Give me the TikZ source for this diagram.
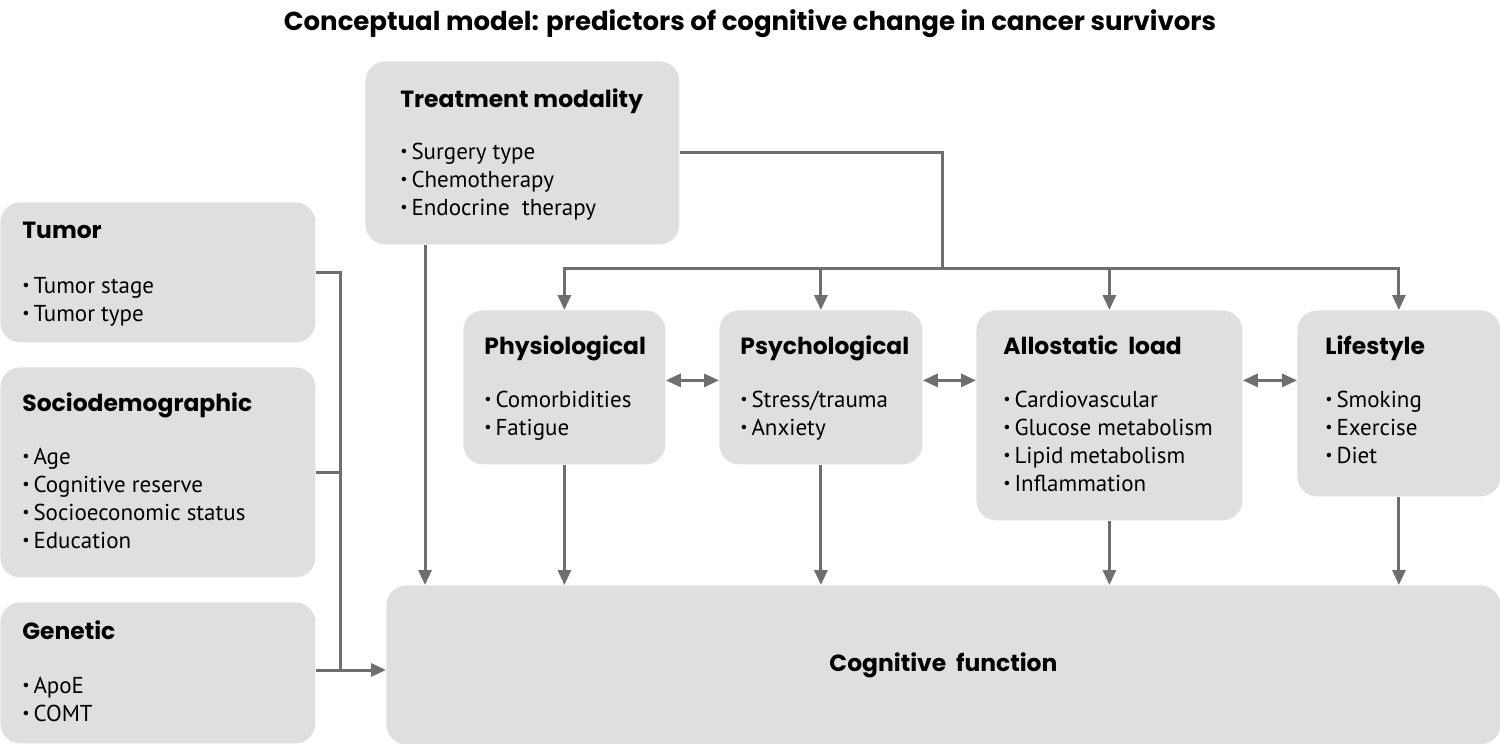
\documentclass[tikz,border=0pt]{standalone}
\usepackage{fontspec}
\setmainfont{PT Sans}
\newfontfamily\headfamily{Poppins}
\usetikzlibrary{arrows.meta}

\definecolor{boxgray}{HTML}{DFDFDF}
\definecolor{linegray}{HTML}{6E6E6E}

\newcommand{\bul}{\raisebox{0.22ex}{\scalebox{0.7}{\textbullet}}\,}

\tikzset{
  box/.style={fill=boxgray, rounded corners=10pt, anchor=north west, inner sep=0pt},
  head/.style={font=\headfamily\bfseries\fontsize{11.7}{14}\selectfont, anchor=base west, inner sep=0pt},
  item/.style={font=\fontsize{11.5}{14}\selectfont, anchor=base west, inner sep=0pt},
  conn/.style={draw=linegray, line width=1.5pt},
  arr/.style={conn, -{Triangle[length=7.5pt,width=6.5pt]}},
  dbl/.style={conn, {Triangle[length=7.5pt,width=6.5pt]}-{Triangle[length=7.5pt,width=6.5pt]}}
}

\begin{document}
\begin{tikzpicture}[x=0.5pt, y=-0.5pt]
  \useasboundingbox (0,0) rectangle (1500,744);

  % Titel
  \node[font=\headfamily\bfseries\fontsize{13}{15}\selectfont, anchor=base] (title) at (750,30)
    {Conceptual model: predictors of cognitive change in cancer survivors};

  % Boxen links
  \node[box, minimum width=157.5pt, minimum height=70pt] (tumor) at (0,202) {};
  \node[box, minimum width=157.5pt, minimum height=105pt] (socio) at (0,367) {};
  \node[box, minimum width=157.5pt, minimum height=70.5pt] (genetic) at (0,602) {};

  % Behandlung und Zielbox
  \node[box, minimum width=157pt, minimum height=91.5pt] (treat) at (365,61) {};
  \node[box, minimum width=557pt, minimum height=79.5pt] (cog) at (386,585) {};

  % Mittlere Reihe
  \node[box, minimum width=101pt, minimum height=77pt] (phys) at (463,310) {};
  \node[box, minimum width=101.5pt, minimum height=77pt] (psych) at (719,310) {};
  \node[box, minimum width=133pt, minimum height=105pt] (allo) at (976,310) {};
  \node[box, minimum width=101.5pt, minimum height=93pt] (life) at (1297,310) {};

  % Texte
  \node[head] (tumor-h) at (22,238) {Tumor};
  \foreach \t [count=\i] in {Tumor stage, Tumor type}
    \node[item] (tumor-\i) at (22,265+28*\i) {\bul\t};

  \node[head] (socio-h) at (22,411) {Sociodemographic};
  \foreach \t [count=\i] in {Age, Cognitive reserve, Socioeconomic status, Education}
    \node[item] (socio-\i) at (22,436+28*\i) {\bul\t};

  \node[head] (genetic-h) at (22,639) {Genetic};
  \foreach \t [count=\i] in {ApoE, COMT}
    \node[item] (genetic-\i) at (22,665+28*\i) {\bul\t};

  \node[head] (treat-h) at (400,107) {Treatment modality};
  \foreach \t [count=\i] in {Surgery type, Chemotherapy, Endocrine~~therapy}
    \node[item] (treat-\i) at (400,131+28*\i) {\bul\t};

  \node[head] (phys-h) at (484,354) {Physiological};
  \foreach \t [count=\i] in {Comorbidities, Fatigue}
    \node[item] (phys-\i) at (484,379+28*\i) {\bul\t};

  \node[head] (psych-h) at (740,354) {Psychological};
  \foreach \t [count=\i] in {Stress/trauma, Anxiety}
    \node[item] (psych-\i) at (740,379+28*\i) {\bul\t};

  \node[head] (allo-h) at (1003,354) {Allostatic~~load};
  \foreach \t [count=\i] in {Cardiovascular, Glucose metabolism, Lipid metabolism, Inflammation}
    \node[item] (allo-\i) at (1003,379+28*\i) {\bul\t};

  \node[head] (life-h) at (1325,354) {Lifestyle};
  \foreach \t [count=\i] in {Smoking, Exercise, Diet}
    \node[item] (life-\i) at (1325,379+28*\i) {\bul\t};

  \node[head, anchor=center] (cog-h) at (cog.center) {Cognitive~~function};

  % Verbindungen von oben
  \coordinate (hub) at (942,268);
  \draw[conn] (treat.east) -| (hub);
  \foreach \b in {phys, psych, allo, life}
    \draw[arr] (hub) -| (\b.north);
  \draw[arr] ([xshift=30pt]treat.south west) -- ([xshift=30pt]treat.south west |- cog.north);

  % Pfeile zur Zielbox
  \foreach \b in {phys, psych, allo, life}
    \draw[arr] (\b.south) -- (\b.south |- cog.north);

  % Linke Sammelschiene
  \coordinate (join) at (340,670);
  \draw[conn] (tumor.east) -| (join);
  \draw[conn] (socio.east) -| (join);
  \draw[arr] (genetic.east |- join) -- (join -| cog.west);

  % Wechselwirkungen
  \draw[dbl] ([yshift=3.5pt]phys.east) -- ([yshift=3.5pt]psych.west);
  \draw[dbl] ([yshift=3.5pt]psych.east) -- ([yshift=3.5pt]psych.east -| allo.west);
  \draw[dbl] ([yshift=3.5pt]psych.east -| allo.east) -- ([yshift=3.5pt]psych.east -| life.west);
\end{tikzpicture}
\end{document}
